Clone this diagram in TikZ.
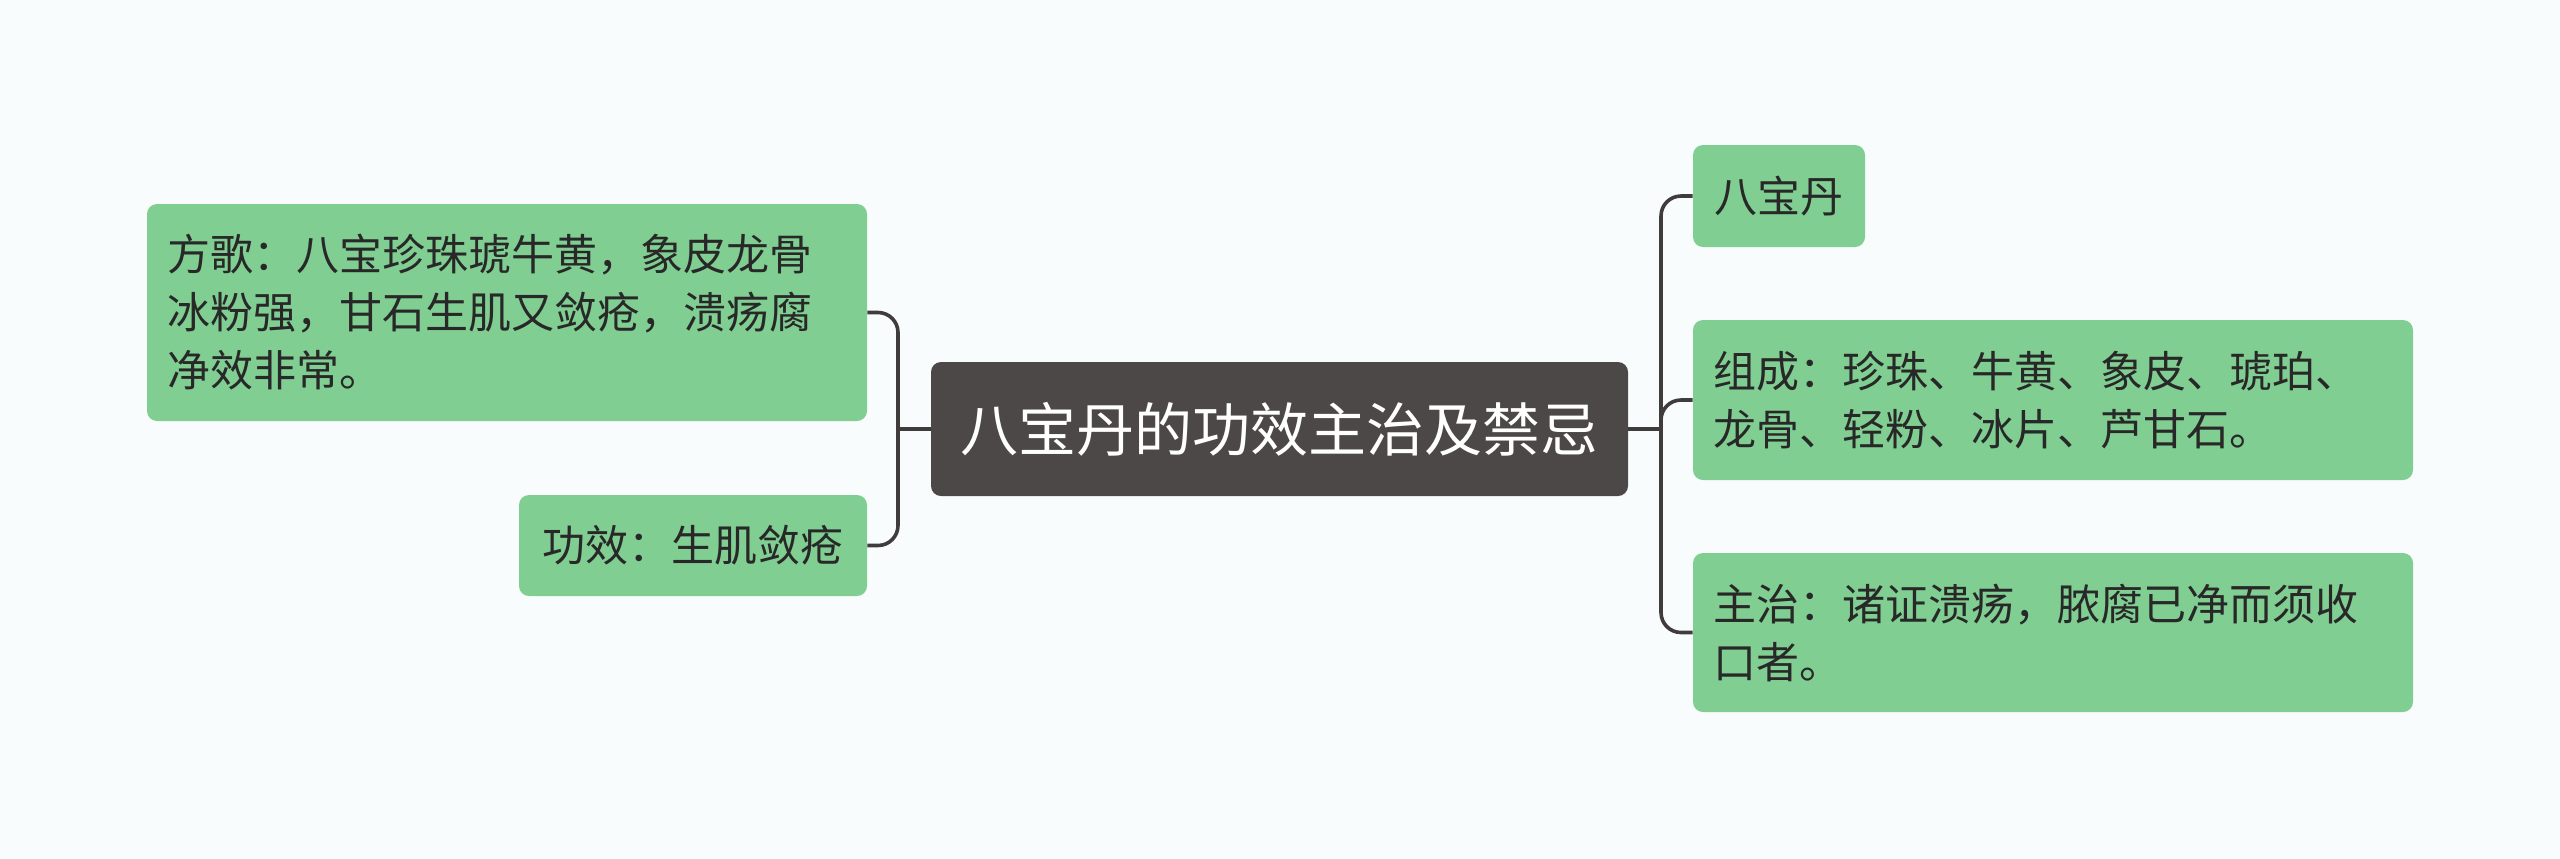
\documentclass[tikz,border=0pt]{standalone}
\usepackage{fontspec}
\setmainfont{Noto Sans CJK SC}
\definecolor{bgc}{RGB}{249,252,253}
\definecolor{leafc}{RGB}{128,206,146}
\definecolor{rootc}{RGB}{77,72,72}
\definecolor{linec}{RGB}{64,60,60}
\definecolor{txtc}{RGB}{40,40,40}
\begin{document}
\begin{tikzpicture}[x=0.5pt,y=-0.5pt,
  leaf/.style={fill=leafc, rounded corners=5pt, text=txtc, align=left, inner xsep=10pt, inner ysep=4pt,
    font=\fontsize{21.5pt}{29pt}\selectfont},
  rootbox/.style={fill=rootc, rounded corners=5pt, text=white, align=center,
    font=\fontsize{29pt}{36pt}\selectfont},
  conn/.style={draw=linec, line width=1.8pt, rounded corners=10pt}]
\fill[bgc] (0,0) rectangle (2560,858);
\useasboundingbox (0,0) rectangle (2560,858);

\node[rootbox, minimum width=348.5pt, minimum height=67pt] (C) at (1279.5,429) {八宝丹的功效主治及禁忌};

\node[leaf, text width=340pt, minimum height=108.5pt] (L1) at (507,312.5)
  {方歌：八宝珍珠琥牛黄，象皮龙骨\\冰粉强，甘石生肌又敛疮，溃疡腐\\净效非常。};
\node[leaf, minimum width=174pt, minimum height=50.5pt, align=center] (L2) at (693,545.5) {功效：生肌敛疮};

\node[leaf, minimum width=86pt, minimum height=51pt, align=center] (R1) at (1779,196) {八宝丹};
\node[leaf, text width=340pt, minimum height=80pt] (R2) at (2053,400)
  {组成：珍珠、牛黄、象皮、琥珀、\\龙骨、轻粉、冰片、芦甘石。};
\node[leaf, text width=340pt, minimum height=79.5pt] (R3) at (2053,632.5)
  {主治：诸证溃疡，脓腐已净而须收\\口者。};

\coordinate (bl) at (898,429);
\coordinate (br) at (1661,429);

\draw[conn] (C.west) -- (bl);
\draw[conn] (L1.east) -- (bl |- L1.east) -- (bl |- L2.east) -- (L2.east);
\draw[conn] (C.east) -- (br);
\draw[conn] (R1.west) -- (br |- R1.west) -- (br |- R3.west) -- (R3.west);
\draw[conn] (br) -- (br |- R2.west) -- (R2.west);
\end{tikzpicture}
\end{document}
